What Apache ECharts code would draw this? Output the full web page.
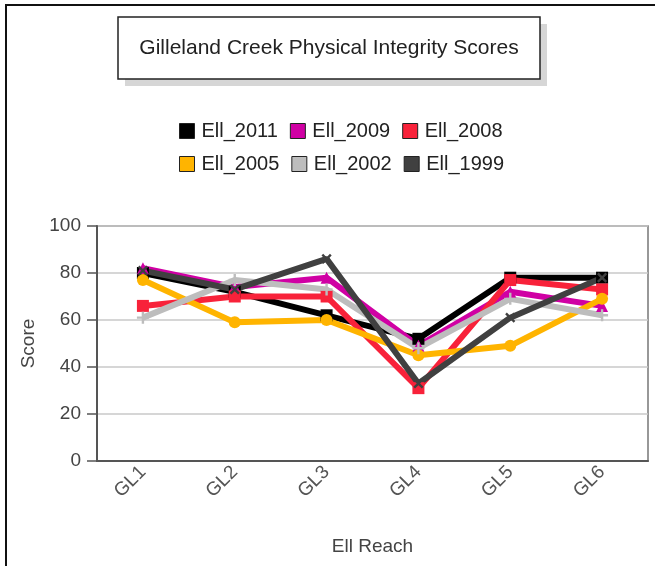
<!DOCTYPE html>
<html>
<head>
<meta charset="utf-8">
<script src="https://cdn.jsdelivr.net/npm/echarts@6/dist/echarts.min.js"></script>
<style>
  html, body { margin: 0; padding: 0; background: #fff; }
  #chart { width: 655px; height: 566px; }
</style>
</head>
<body>
<div id="chart"></div>
<script>
  // reaches along Gilleland Creek
  var categories = ['GL1', 'GL2', 'GL3', 'GL4', 'GL5', 'GL6']
  var yTicks = [0, 20, 40, 60, 80, 100]

  // scores per survey year
  var ell2011 = [80, 72, 62, 52, 78, 78]
  var ell2009 = [82, 74, 78, 49, 72, 66]
  var ell2008 = [66, 70, 70, 31, 77, 73]
  var ell2005 = [77, 59, 60, 45, 49, 69]
  var ell2002 = [61, 77, 73, 48, 69, 62]
  var ell1999 = [81, 73, 86, 33, 61, 78]

  var names = ['Ell_2011', 'Ell_2009', 'Ell_2008', 'Ell_2005', 'Ell_2002', 'Ell_1999']
  var colors = ['#000000', '#d000a4', '#f8223a', '#ffb400', '#bdbdbd', '#404040']
  var symbols = [
    'rect',
    'triangle',
    'rect',
    'circle',
    'path://M4,0H6V4H10V6H6V10H4V6H0V4H4Z',
    'path://M4,0H6V4H10V6H6V10H4V6H0V4H4Z'
  ]
  var rotations = [0, 0, 0, 0, 0, 45]
  var values = [ell2011, ell2009, ell2008, ell2005, ell2002, ell1999]

  var chart = echarts.init(document.getElementById('chart'))

  var series = []
  for (var i = 0; i < names.length; i++) {
    series.push({
      name: names[i],
      type: 'line',
      data: values[i],
      symbol: symbols[i],
      symbolRotate: rotations[i],
      symbolSize: 12,
      showAllSymbol: true,
      lineStyle: { width: 6, color: colors[i] },
      itemStyle: { color: colors[i] },
      emphasis: { disabled: true },
      animation: false
    })
  }

  var legendBase = {
    left: 174,
    orient: 'horizontal',
    icon: 'rect',
    itemWidth: 15,
    itemHeight: 15,
    itemGap: 12,
    selectedMode: false,
    itemStyle: { borderColor: '#222', borderWidth: 1 },
    textStyle: { fontSize: 20, color: '#222', fontFamily: 'Liberation Sans', padding: [0, 0, 0, 2] }
  }

  var option = {
    color: colors,
    animation: false,
    graphic: [
      {
        type: 'rect',
        shape: { x: 6, y: 5, width: 800, height: 800 },
        style: { fill: 'none', stroke: '#111', lineWidth: 2 },
        silent: true
      },
      {
        // drop shadow of the title box
        type: 'rect',
        shape: { x: 125, y: 24, width: 422, height: 62 },
        style: { fill: '#d6d6d6' },
        silent: true
      },
      {
        type: 'rect',
        shape: { x: 118, y: 17, width: 422, height: 62 },
        style: { fill: '#fff', stroke: '#222', lineWidth: 1.5 },
        silent: true
      },
      {
        type: 'text',
        x: 329,
        y: 48,
        style: {
          text: 'Gilleland Creek Physical Integrity Scores',
          fill: '#222',
          font: '21px "Liberation Sans"',
          align: 'center',
          verticalAlign: 'middle'
        },
        silent: true
      }
    ],
    legend: [
      Object.assign({ top: 116, data: names.slice(0, 3) }, legendBase),
      Object.assign({ top: 149, data: names.slice(3, 6) }, legendBase)
    ],
    grid: { left: 97, right: 7, top: 226, bottom: 105, show: true, borderColor: '#777', borderWidth: 1.5 },
    xAxis: {
      type: 'category',
      data: categories,
      boundaryGap: true,
      name: 'Ell Reach',
      nameLocation: 'middle',
      nameGap: 76,
      nameTextStyle: { fontSize: 19, color: '#444', fontFamily: 'Liberation Sans' },
      axisLine: { lineStyle: { color: '#555', width: 2 } },
      axisTick: { alignWithLabel: true, length: 7, lineStyle: { color: '#555', width: 1.5 } },
      axisLabel: { rotate: 45, fontSize: 19, color: '#555', margin: 8, fontFamily: 'Liberation Sans' }
    },
    yAxis: {
      type: 'value',
      min: yTicks[0],
      max: yTicks[yTicks.length - 1],
      interval: 20,
      name: 'Score',
      nameLocation: 'middle',
      nameGap: 50,
      nameTextStyle: { fontSize: 19, color: '#444', fontFamily: 'Liberation Sans' },
      axisLine: { show: true, lineStyle: { color: '#555', width: 2 } },
      axisTick: { show: true, length: 10, lineStyle: { color: '#555', width: 1.5 } },
      axisLabel: { fontSize: 19, color: '#444', margin: 16, fontFamily: 'Liberation Sans' },
      splitLine: { lineStyle: { color: '#c8c8c8', width: 1.5 } }
    },
    series: series
  }

  chart.setOption(option)
</script>
</body>
</html>
